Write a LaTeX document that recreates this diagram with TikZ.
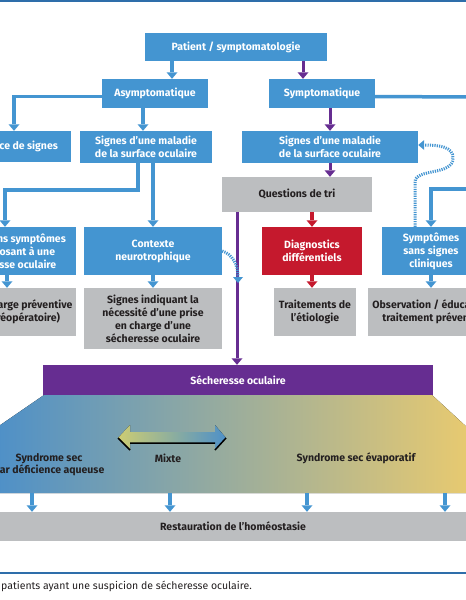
\documentclass[tikz,border=0pt]{standalone}
\usepackage{fontspec}
\setmainfont{Fira Sans}
\usepackage{tikz}
\usetikzlibrary{arrows.meta}
\usetikzlibrary{positioning}
\definecolor{boxblue}{RGB}{68,149,209}
\definecolor{boxpurple}{RGB}{102,45,145}
\definecolor{boxred}{RGB}{197,25,45}
\definecolor{boxgrey}{RGB}{188,190,192}
\definecolor{ruleblue}{RGB}{46,110,170}
\definecolor{gradblue}{RGB}{78,144,200}
\definecolor{gradyellow}{RGB}{232,202,112}
\definecolor{mixyellow}{RGB}{205,205,115}
\definecolor{inkdark}{RGB}{35,31,32}
\tikzstyle{block}       = [rectangle, inner sep=0pt, align=center, font=\bfseries\fontsize{10.5}{13}\selectfont]
\tikzstyle{blueblock}   = [block, fill=boxblue, text=white]
\tikzstyle{greyblock}   = [block, fill=boxgrey, text=inkdark]
\tikzstyle{redblock}    = [block, fill=boxred, text=white]
\tikzstyle{purpleblock} = [block, fill=boxpurple, text=white]
\tikzstyle{gradtext}    = [align=center, inner sep=0pt, text=inkdark, font=\bfseries\fontsize{10.5}{12.5}\selectfont]
\tikzstyle{tip}         = [-{Triangle[width=11pt,length=6.5pt,line width=0pt]}]
\tikzstyle{bline}       = [draw=boxblue, line width=3.5pt, tip]
\tikzstyle{pline}       = [draw=boxpurple, line width=3pt, tip]
\tikzstyle{rline}       = [draw=boxred, line width=3.5pt, tip]
\tikzstyle{dotline}     = [draw=boxblue, line width=3pt, dash pattern=on 1.2pt off 1.1pt, -{Triangle[width=10pt,length=6pt,line width=0pt]}]

\begin{document}
\begin{tikzpicture}[x=1pt, y=-1pt]
    \useasboundingbox (0,0) rectangle (466,600);
    \clip (0,0) rectangle (466,600);
    \draw [ruleblue, line width=2pt] (0,1) -- (466,1);

        \node [blueblock, minimum width=182pt, minimum height=28pt] (patient) at (236,47) {Patient / symptomatologie};
        \node [blueblock, minimum width=106pt, minimum height=29pt, below of=patient, node distance=46.5pt, xshift=-81pt] (asym) {Asymptomatique};
        \node [blueblock, minimum width=106pt, minimum height=29pt, right of=asym, node distance=167pt] (sym) {Symptomatique};

        \node [blueblock, minimum width=114pt, minimum height=31pt] (nosign) at (14,146.5) {Absence de signes};
        \node [blueblock, minimum width=132pt, minimum height=32pt] (signsL) at (146,147) {Signes d’une maladie\\de la surface oculaire};
        \node [blueblock, minimum width=176pt, minimum height=32pt, below of=sym, node distance=53.5pt, xshift=8pt] (signsR) {Signes d’une maladie\\de la surface oculaire};
        \node [greyblock, minimum width=150pt, minimum height=35pt] (quest) at (297,194.5) {Questions de tri};

        \node [blueblock, minimum width=134pt, minimum height=48pt] (predisp) at (9,251) {Signes sans symptômes\\prédisposant à une\\sécheresse oculaire};
        \node [blueblock, minimum width=138pt, minimum height=48pt] (contexte) at (153,251) {Contexte\\neurotrophique};
        \node [redblock, minimum width=100pt, minimum height=48pt] (diag) at (312,251) {Diagnostics\\différentiels};
        \node [blueblock, minimum width=98pt, minimum height=48pt, right of=diag, node distance=119pt] (symnosign) {Symptômes\\sans signes\\cliniques};

        \node [greyblock, minimum width=134pt, minimum height=48pt, below of=predisp, node distance=61pt] (prevent) {Prise en charge préventive\\(p. ex. préopératoire)};
        \node [greyblock, minimum width=138pt, minimum height=61pt, below of=contexte, node distance=67.5pt] (signsind) {Signes indiquant la\\nécessité d’une prise\\en charge d’une\\sécheresse oculaire};
        \node [greyblock, minimum width=82pt, minimum height=48pt] (traitements) at (315,312) {Traitements de\\l’étiologie};
        \node [greyblock, minimum width=126pt, minimum height=48pt, right of=traitements, node distance=116pt] (observation) {Observation / éducation\\traitement préventif};

        \node [purpleblock, minimum width=390pt, minimum height=30pt] (seche) at (238,380) {Sécheresse oculaire};

        % gradient band
        \fill [left color=gradblue, right color=gradyellow] (44,395) -- (432,395) -- (470,430) -- (470,493) -- (-4,493) -- (-4,428) -- cycle;
        \coordinate (gradbot) at (0,493);
        \fill [left color=mixyellow, right color=gradblue] (118,438) -- (130,425) -- (130,432) -- (215,432) -- (215,425) -- (226,438) -- (215,450) -- (215,443) -- (130,443) -- (130,450) -- cycle;
        \draw [black, line width=1.5pt] (118,438) -- (130,450) (130,443) -- (215,443) (215,450) -- (226,438);
        \node [gradtext] (aqueous) at (49,464.5) {Syndrome sec\\par déficience aqueuse};
        \node [gradtext] (mixte) at (168,458.5) {Mixte};
        \node [gradtext] (evap) at (356,458.5) {Syndrome sec évaporatif};

        \node [greyblock, minimum width=480pt, minimum height=29pt] (restore) at (233,526.5) {Restauration de l’homéostasie};

        \coordinate (edgeA) at (470,97);
        \coordinate (edgeB) at (470,189);

        \path [bline] (patient.south -| 172,0) -- (asym.north -| 172,0);
        \path [pline] (patient.south -| 303,0) -- (sym.north -| 303,0);
        \path [bline] ([yshift=-3pt]asym.west) -| (nosign.north);
        \path [bline] (asym.south -| 143,0) -- (signsL.north -| 143,0);
        \path [draw=boxblue, line width=3.5pt] ([yshift=-3pt]sym.east) -- (edgeA);
        \path [bline] (edgeB) -| (symnosign.north);
        \path [pline] (sym.south -| signsR.north) -- (signsR.north);
        \path [pline] (signsR.south) -- (quest.north -| signsR.south);
        \path [bline] (signsL.south -| 138,0) -- (138,190) -| (predisp.north -| 5,0);
        \path [bline] (signsL.south -| contexte.north) -- (contexte.north);
        \path [pline] (quest.south -| 237,0) -- (seche.north -| 237,0);
        \path [rline] (quest.south -| diag.north) -- (diag.north);
        \path [rline] (diag.south) -- (traitements.north -| diag.south);
        \path [bline] (predisp.south -| 7,0) -- (prevent.north -| 7,0);
        \path [bline] (contexte.south) -- (signsind.north);
        \path [bline] (symnosign.south) -- (observation.north -| symnosign.south);
        \path [dotline] (symnosign.north -| 415,0) -- (415,182) .. controls (415,168) and (453,176) .. (453,158) .. controls (453,147) and (440,145) .. ([yshift=2pt]signsR.east);
        \path [dotline] (contexte.east) .. controls (232,254) and (238,264) .. (238,283);
        \foreach \x in {32,170,307,445}
            \path [bline] (gradbot -| \x,0) -- (restore.north -| \x,0);

    \draw [ruleblue, line width=1.5pt] (0,573) -- (466,573);
    \node [anchor=base west, inner sep=0pt, text=inkdark, font=\fontsize{10.5}{12}\selectfont] (caption) at (1,589) {patients ayant une suspicion de sécheresse oculaire.};
\end{tikzpicture}
\end{document}
